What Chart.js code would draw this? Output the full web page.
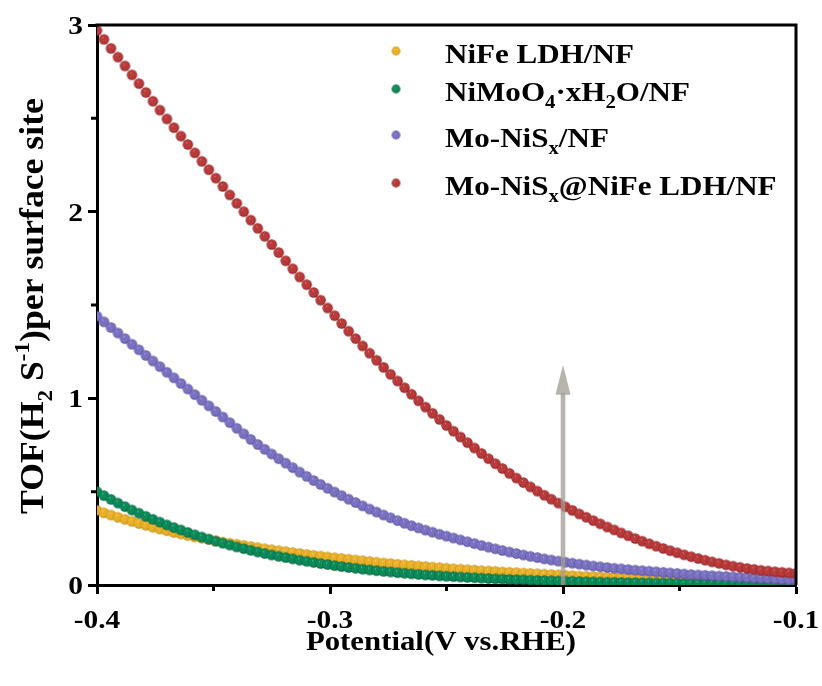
<!DOCTYPE html>
<html>
<head>
<meta charset="utf-8">
<script src="https://cdn.jsdelivr.net/npm/chart.js@4.4.1/dist/chart.umd.min.js"></script>
<style>
  html, body { margin: 0; padding: 0; background: #fff; }
</style>
</head>
<body>
<canvas id="tofChart" width="822" height="686"></canvas>
<script>
// potential (V vs. RHE), one sample every 3 mV
const potential = [
  -0.400,-0.397,-0.394,-0.391,-0.388,-0.385,-0.382,-0.379,-0.376,-0.373,
  -0.370,-0.367,-0.364,-0.361,-0.358,-0.355,-0.352,-0.349,-0.346,-0.343,
  -0.340,-0.337,-0.334,-0.331,-0.328,-0.325,-0.322,-0.319,-0.316,-0.313,
  -0.310,-0.307,-0.304,-0.301,-0.298,-0.295,-0.292,-0.289,-0.286,-0.283,
  -0.280,-0.277,-0.274,-0.271,-0.268,-0.265,-0.262,-0.259,-0.256,-0.253,
  -0.250,-0.247,-0.244,-0.241,-0.238,-0.235,-0.232,-0.229,-0.226,-0.223,
  -0.220,-0.217,-0.214,-0.211,-0.208,-0.205,-0.202,-0.199,-0.196,-0.193,
  -0.190,-0.187,-0.184,-0.181,-0.178,-0.175,-0.172,-0.169,-0.166,-0.163,
  -0.160,-0.157,-0.154,-0.151,-0.148,-0.145,-0.142,-0.139,-0.136,-0.133,
  -0.130,-0.127,-0.124,-0.121,-0.118,-0.115,-0.112,-0.109,-0.106,-0.103,
  -0.100
];

const tofNiFeLDH = [
  0.400,0.387,0.375,0.363,0.352,0.341,0.330,0.320,0.310,0.300,
  0.291,0.282,0.274,0.266,0.258,0.251,0.244,0.237,0.230,0.224,
  0.218,0.212,0.206,0.200,0.194,0.189,0.184,0.179,0.174,0.169,
  0.164,0.159,0.155,0.150,0.146,0.142,0.138,0.134,0.130,0.126,
  0.122,0.118,0.115,0.111,0.108,0.105,0.102,0.099,0.096,0.093,
  0.090,0.087,0.085,0.082,0.080,0.077,0.075,0.073,0.070,0.068,
  0.066,0.064,0.062,0.060,0.058,0.056,0.054,0.052,0.050,0.048,
  0.047,0.045,0.044,0.042,0.041,0.039,0.038,0.037,0.035,0.034,
  0.033,0.032,0.031,0.030,0.029,0.028,0.027,0.026,0.025,0.024,
  0.023,0.022,0.021,0.020,0.019,0.018,0.018,0.017,0.016,0.015,
  0.015
];

const tofNiMoO4 = [
  0.500,0.479,0.459,0.439,0.420,0.402,0.385,0.368,0.352,0.337,
  0.322,0.308,0.295,0.282,0.269,0.257,0.246,0.235,0.224,0.214,
  0.204,0.195,0.186,0.177,0.169,0.161,0.154,0.147,0.140,0.133,
  0.127,0.121,0.115,0.110,0.104,0.099,0.094,0.090,0.085,0.081,
  0.077,0.073,0.070,0.066,0.063,0.060,0.057,0.054,0.052,0.049,
  0.047,0.045,0.043,0.041,0.039,0.037,0.035,0.033,0.032,0.030,
  0.029,0.028,0.026,0.025,0.024,0.023,0.022,0.021,0.020,0.019,
  0.018,0.017,0.016,0.015,0.015,0.014,0.013,0.013,0.012,0.012,
  0.011,0.011,0.010,0.010,0.009,0.009,0.008,0.008,0.008,0.007,
  0.007,0.007,0.006,0.006,0.006,0.006,0.005,0.005,0.005,0.005,
  0.004
];

const tofMoNiSx = [
  1.440,1.410,1.380,1.350,1.320,1.290,1.260,1.230,1.200,1.170,
  1.140,1.110,1.080,1.050,1.020,0.990,0.960,0.930,0.900,0.870,
  0.840,0.810,0.780,0.753,0.727,0.702,0.677,0.653,0.629,0.605,
  0.582,0.560,0.539,0.518,0.498,0.479,0.460,0.442,0.424,0.407,
  0.391,0.375,0.360,0.345,0.331,0.318,0.306,0.294,0.283,0.272,
  0.262,0.252,0.242,0.232,0.222,0.212,0.203,0.194,0.185,0.177,
  0.169,0.161,0.154,0.147,0.140,0.134,0.128,0.122,0.117,0.112,
  0.107,0.102,0.098,0.094,0.090,0.087,0.083,0.080,0.077,0.074,
  0.071,0.068,0.065,0.062,0.059,0.056,0.054,0.052,0.050,0.048,
  0.046,0.044,0.042,0.040,0.038,0.036,0.034,0.032,0.030,0.028,
  0.026
];

const tofMoNiSxNiFe = [
  2.970,2.923,2.875,2.828,2.781,2.733,2.686,2.639,2.592,2.544,
  2.497,2.450,2.405,2.360,2.315,2.270,2.225,2.180,2.135,2.090,
  2.045,2.000,1.955,1.911,1.868,1.824,1.781,1.737,1.694,1.650,
  1.609,1.567,1.526,1.484,1.443,1.401,1.360,1.320,1.281,1.242,
  1.204,1.166,1.129,1.093,1.057,1.022,0.987,0.953,0.920,0.887,
  0.855,0.824,0.793,0.763,0.734,0.705,0.677,0.650,0.624,0.598,
  0.573,0.549,0.526,0.503,0.481,0.460,0.439,0.419,0.400,0.381,
  0.363,0.345,0.328,0.311,0.295,0.279,0.264,0.249,0.235,0.221,
  0.208,0.196,0.184,0.173,0.162,0.152,0.142,0.133,0.124,0.116,
  0.108,0.101,0.095,0.089,0.084,0.079,0.075,0.071,0.068,0.065,
  0.062
];

const seriesNames = ['NiFe LDH/NF', 'NiMoO4·xH2O/NF', 'Mo-NiSx/NF', 'Mo-NiSx@NiFe LDH/NF'];
// same names with sub/superscript pieces for the drawn legend
const legendParts = [
  [['NiFe LDH/NF', '']],
  [['NiMoO', ''], ['4', 'sub'], ['·xH', ''], ['2', 'sub'], ['O/NF', '']],
  [['Mo-NiS', ''], ['x', 'sub'], ['/NF', '']],
  [['Mo-NiS', ''], ['x', 'sub'], ['@NiFe LDH/NF', '']]
];
const xTicks = [-0.4, -0.3, -0.2, -0.1];
const xMinor = [-0.35, -0.25, -0.15];
const yTicks = [0, 1, 2, 3];
const yMinor = [0.5, 1.5, 2.5];
const xTitle = [['Potential(V vs.RHE)', '']];
const yTitle = [['TOF(H', ''], ['2', 'sub'], [' S', ''], ['-1', 'sup'], [')per surface site', '']];
// arrow marking the jump at -0.2 V
const arrowAt = -0.2, arrowFrom = 0.0, arrowTo = 1.18;

const colors = [
  ['#E9B12A', '#BF8710'],
  ['#0C8B5A', '#04603B'],
  ['#7A72C1', '#58509F'],
  ['#B83A3A', '#8E2323']
];

function makeBall(base, dark, r) {
  var c = document.createElement('canvas');
  var s = Math.ceil(r * 2) + 2;
  c.width = s; c.height = s;
  var g = c.getContext('2d');
  var cx = s / 2, cy = s / 2;
  var grad = g.createRadialGradient(cx - r * 0.3, cy - r * 0.35, 0, cx, cy, r);
  grad.addColorStop(0, '#ffffff');
  grad.addColorStop(0.16, base);
  grad.addColorStop(0.75, base);
  grad.addColorStop(1, dark);
  g.fillStyle = grad;
  g.beginPath();
  g.arc(cx, cy, r, 0, Math.PI * 2);
  g.fill();
  return c;
}

const FONT = '"Liberation Serif", "Times New Roman", serif';

function drawRich(ctx, parts, x, y, size, sx, align) {
  ctx.save();
  ctx.translate(x, y);
  ctx.scale(sx, 1);
  ctx.textBaseline = 'alphabetic';
  ctx.textAlign = 'left';
  ctx.fillStyle = '#000';
  var fontOf = function (p) {
    var s = p[1] ? Math.round(size * 0.65) : size;
    return 'bold ' + s + 'px ' + FONT;
  };
  var total = 0;
  parts.forEach(function (p) {
    ctx.font = fontOf(p);
    total += ctx.measureText(p[0]).width;
  });
  var cx = align === 'center' ? -total / 2 : (align === 'right' ? -total : 0);
  parts.forEach(function (p) {
    ctx.font = fontOf(p);
    var dy = p[1] === 'sub' ? size * 0.27 : (p[1] === 'sup' ? -size * 0.4 : 0);
    ctx.fillText(p[0], cx, dy);
    cx += ctx.measureText(p[0]).width;
  });
  ctx.restore();
}

const decor = {
  id: 'decor',
  afterDatasetsDraw: function (chart) {
    var ctx = chart.ctx, xs = chart.scales.x, ys = chart.scales.y;
    var px = xs.getPixelForValue(arrowAt);
    var y0 = ys.getPixelForValue(arrowFrom), y1 = ys.getPixelForValue(arrowTo);
    ctx.save();
    ctx.fillStyle = 'rgba(160,155,145,0.75)';
    ctx.fillRect(px - 2.3, y1 + 28, 4.6, y0 - y1 - 28);
    ctx.beginPath();
    ctx.moveTo(px, y1);
    ctx.lineTo(px - 7.5, y1 + 30);
    ctx.lineTo(px + 7.5, y1 + 30);
    ctx.closePath();
    ctx.fill();
    ctx.restore();
  },
  afterDraw: function (chart) {
    var ctx = chart.ctx, a = chart.chartArea;
    var xs = chart.scales.x, ys = chart.scales.y;
    ctx.save();
    ctx.strokeStyle = '#000';
    ctx.lineWidth = 3;
    ctx.beginPath();
    ctx.moveTo(a.left - 1.5, a.top);
    ctx.lineTo(a.right, a.top);
    ctx.lineTo(a.right, a.bottom);
    ctx.stroke();
    // minor ticks
    ctx.beginPath();
    xMinor.forEach(function (v) {
      var p = xs.getPixelForValue(v);
      ctx.moveTo(p, a.bottom); ctx.lineTo(p, a.bottom + 6);
    });
    yMinor.forEach(function (v) {
      var p = ys.getPixelForValue(v);
      ctx.moveTo(a.left, p); ctx.lineTo(a.left - 6, p);
    });
    ctx.stroke();
    ctx.restore();

    // tick labels
    xTicks.forEach(function (v) {
      drawRich(ctx, [[v.toFixed(1), '']], xs.getPixelForValue(v), 628, 26, 1.13, 'center');
    });
    yTicks.forEach(function (v) {
      drawRich(ctx, [[String(v), '']], 83, ys.getPixelForValue(v) + 9, 26, 1.13, 'right');
    });

    // axis titles
    drawRich(ctx, xTitle, 441, 650, 27, 1.14, 'center');
    ctx.save();
    ctx.translate(43, 306);
    ctx.rotate(-Math.PI / 2);
    drawRich(ctx, yTitle, 0, 0, 34, 1.05, 'center');
    ctx.restore();

    // legend
    var rowBase = [63, 101, 147, 195];
    legendParts.forEach(function (parts, i) {
      var ball = makeBall(colors[i][0], colors[i][1], 4.4);
      ctx.drawImage(ball, 396 - ball.width / 2, rowBase[i] - 12 - ball.height / 2);
      drawRich(ctx, parts, 445, rowBase[i], 27, 1.15, 'left');
    });
  }
};

(function () {
  const series = [tofNiFeLDH, tofNiMoO4, tofMoNiSx, tofMoNiSxNiFe];
  const datasets = series.map(function (vals, i) {
    return {
      label: seriesNames[i],
      data: vals.map(function (v, k) { return { x: potential[k], y: v }; }),
      pointStyle: makeBall(colors[i][0], colors[i][1], 5.2),
      pointRadius: 5.2,
      showLine: false,
      order: 4 - i
    };
  });

  const canvas = document.getElementById('tofChart');
  new Chart(canvas.getContext('2d'), {
    type: 'scatter',
    data: { datasets: datasets },
    options: {
      responsive: false,
      animation: false,
      devicePixelRatio: 1,
      layout: { padding: { top: 25, right: 26, left: 0, bottom: 0 } },
      plugins: {
        legend: { display: false },
        tooltip: { enabled: false }
      },
      scales: {
        x: {
          type: 'linear',
          min: -0.4,
          max: -0.1,
          afterBuildTicks: function (s) { s.ticks = xTicks.map(function (v) { return { value: v }; }); },
          afterFit: function (s) { s.height = 101; },
          ticks: { display: false },
          grid: { drawOnChartArea: false, tickLength: 9, tickWidth: 3, tickColor: '#000' },
          border: { color: '#000', width: 3 }
        },
        y: {
          min: 0,
          max: 3,
          afterBuildTicks: function (s) { s.ticks = yTicks.map(function (v) { return { value: v }; }); },
          afterFit: function (s) { s.width = 97; },
          ticks: { display: false },
          grid: { drawOnChartArea: false, tickLength: 9, tickWidth: 3, tickColor: '#000' },
          border: { color: '#000', width: 3 }
        }
      }
    },
    plugins: [decor]
  });
})();
</script>
</body>
</html>
